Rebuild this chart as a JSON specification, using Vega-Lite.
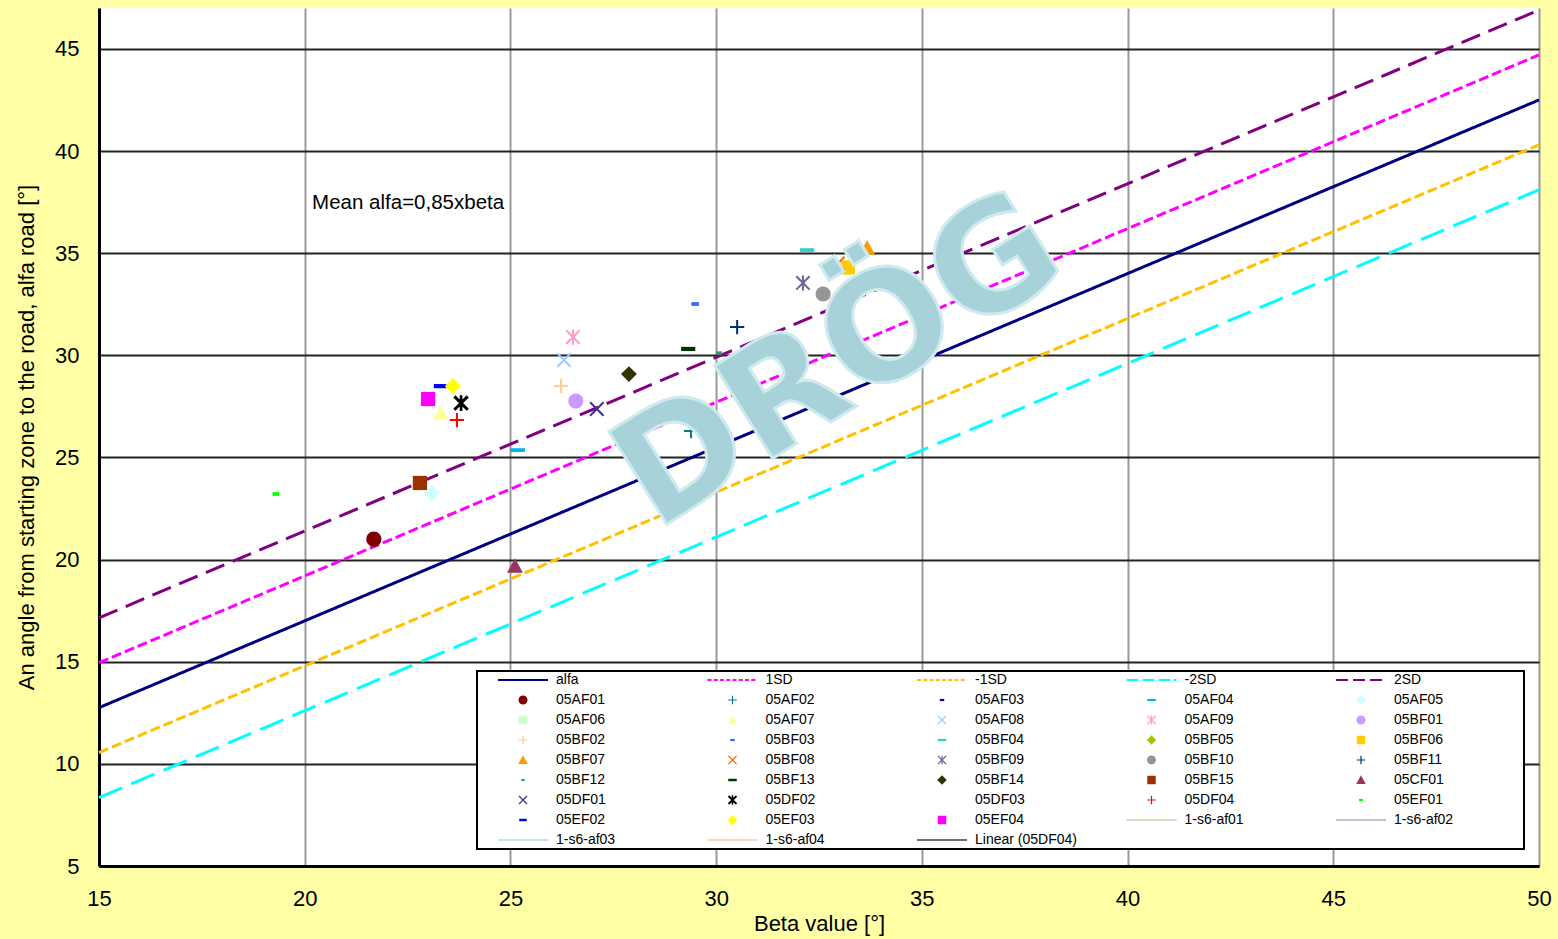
{
"$schema": "https://vega.github.io/schema/vega-lite/v6.json",
"width": 1440, "height": 858,
"autosize": "none",
"padding": {"left": 99, "top": 8, "right": 19, "bottom": 73},
"background": "#FFFFA6",
"config": {"view": {"fill": "#ffffff", "stroke": null}, "legend": {"strokeWidth": 2}},
"datasets": {
"lines": [
{"line": "alfa", "beta": 15, "alfa": 12.75}, {"line": "alfa", "beta": 50, "alfa": 42.5},
{"line": "1SD", "beta": 15, "alfa": 14.95}, {"line": "1SD", "beta": 50, "alfa": 44.7},
{"line": "-1SD", "beta": 15, "alfa": 10.55}, {"line": "-1SD", "beta": 50, "alfa": 40.3},
{"line": "2SD", "beta": 15, "alfa": 17.15}, {"line": "2SD", "beta": 50, "alfa": 46.9},
{"line": "-2SD", "beta": 15, "alfa": 8.35}, {"line": "-2SD", "beta": 50, "alfa": 38.1}
],
"points": [
{"series": "05AF01", "beta": 21.68, "alfa": 21.0},
{"series": "05AF02", "beta": 29.39, "alfa": 26.29},
{"series": "05AF03", "beta": 23.29, "alfa": 28.49},
{"series": "05AF04", "beta": 25.18, "alfa": 25.36},
{"series": "05AF05", "beta": 23.09, "alfa": 23.26},
{"series": "05AF07", "beta": 23.31, "alfa": 27.17},
{"series": "05AF08", "beta": 26.30, "alfa": 29.77},
{"series": "05AF09", "beta": 26.52, "alfa": 30.89},
{"series": "05BF01", "beta": 26.59, "alfa": 27.76},
{"series": "05BF02", "beta": 26.23, "alfa": 28.50},
{"series": "05BF03", "beta": 29.49, "alfa": 32.51},
{"series": "05BF04", "beta": 32.21, "alfa": 35.15},
{"series": "05BF06", "beta": 33.2, "alfa": 34.3},
{"series": "05BF07", "beta": 33.67, "alfa": 35.25},
{"series": "05BF08", "beta": 32.96, "alfa": 34.5},
{"series": "05BF09", "beta": 32.11, "alfa": 33.54},
{"series": "05BF10", "beta": 32.6, "alfa": 33.0},
{"series": "05BF11", "beta": 30.51, "alfa": 31.38},
{"series": "05BF12", "beta": 30.07, "alfa": 30.11},
{"series": "05BF13", "beta": 29.32, "alfa": 30.31},
{"series": "05BF14", "beta": 27.88, "alfa": 29.08},
{"series": "05BF15", "beta": 22.8, "alfa": 23.75},
{"series": "05CF01", "beta": 25.11, "alfa": 19.68},
{"series": "05DF01", "beta": 27.10, "alfa": 27.37},
{"series": "05DF02", "beta": 23.8, "alfa": 27.66},
{"series": "05DF04", "beta": 23.7, "alfa": 26.83},
{"series": "05EF01", "beta": 19.3, "alfa": 23.21},
{"series": "05EF02", "beta": 23.29, "alfa": 28.49},
{"series": "05EF03", "beta": 23.6, "alfa": 28.49},
{"series": "05EF04", "beta": 23.0, "alfa": 27.86}
],
"notes": [{"label": "Mean alfa=0,85xbeta", "beta": 20.18, "alfa": 37.45}],
"stamp": [{"label": "DRÖG", "beta": 33.0, "alfa": 29.6}]
},
"encoding": {
"x": {"field": "beta", "type": "quantitative", "scale": {"domain": [15, 50], "nice": false, "zero": false},
 "axis": {"title": "Beta value [°]", "values": [15, 20, 25, 30, 35, 40, 45, 50], "grid": true, "gridColor": "#999999", "gridWidth": 2, "domainColor": "#000000", "domainWidth": 3, "ticks": false, "labelPadding": 22, "labelFont": "Liberation Sans", "labelFontSize": 22, "labelColor": "#000000", "labelFlush": false, "titleFont": "Liberation Sans", "titleFontSize": 22, "titleFontWeight": "normal", "titleColor": "#000000", "titlePadding": 4}},
"y": {"field": "alfa", "type": "quantitative", "scale": {"domain": [5, 47], "nice": false, "zero": false},
 "axis": {"title": "An angle from starting zone to the road, alfa road [°]", "values": [5, 10, 15, 20, 25, 30, 35, 40, 45], "grid": true, "gridColor": "#222222", "gridWidth": 2, "domainColor": "#000000", "domainWidth": 3, "ticks": false, "labelPadding": 20, "labelFont": "Liberation Sans", "labelFontSize": 22, "labelColor": "#000000", "labelFlush": false, "titleFont": "Liberation Sans", "titleFontSize": 22, "titleFontWeight": "normal", "titleColor": "#000000", "titlePadding": 16}}
},
"layer": [
{"data": {"name": "lines"}, "mark": {"type": "line", "strokeWidth": 3},
 "encoding": {
  "stroke": {"field": "line", "type": "nominal", "scale": {"domain": ["alfa", "1SD", "-1SD", "2SD", "-2SD"], "range": ["#000080", "#FF00FF", "#FFC000", "#800080", "#00FFFF"]}, "legend": null},
  "strokeDash": {"field": "line", "type": "nominal", "scale": {"domain": ["alfa", "1SD", "-1SD", "2SD", "-2SD"], "range": [[1, 0], [10, 4], [10, 4], [20, 9], [25, 10]]}, "legend": null}
 }},
{"data": {"name": "points"}, "mark": {"type": "point", "filled": true, "opacity": 1, "size": 280, "strokeWidth": 0},
 "encoding": {
  "color": {"field": "series", "type": "nominal",
   "scale": {"domain": ["alfa","1SD","-1SD","-2SD","2SD","05AF01","05AF02","05AF03","05AF04","05AF05","05AF06","05AF07","05AF08","05AF09","05BF01","05BF02","05BF03","05BF04","05BF05","05BF06","05BF07","05BF08","05BF09","05BF10","05BF11","05BF12","05BF13","05BF14","05BF15","05CF01","05DF01","05DF02","05DF03","05DF04","05EF01","05EF02","05EF03","05EF04","1-s6-af01","1-s6-af02","1-s6-af03","1-s6-af04","Linear (05DF04)"],
    "range": ["#000080","#FF00FF","#FFC000","#00FFFF","#800080","#800000","#008080","#0000CC","#00B0F0","#CCFFFF","#CCFFCC","#FFFF99","#99CCFF","#FF99CC","#CC99FF","#FFCC99","#3366FF","#33CCCC","#99CC00","#FFCC00","#FF9900","#FF6600","#666699","#969696","#003366","#339966","#003300","#333300","#993300","#993366","#333399","#000000","#000000","#FF0000","#00FF00","#0000FF","#FFFF00","#FF00FF","#C4D3A8","#B3A8CC","#B8D4E0","#F8CBAD","#404040"]},
   "legend": {"orient": "none", "legendX": 378, "legendY": 663, "direction": "horizontal", "columns": 5, "symbolLimit": 0, "gridAlign": "all", "columnPadding": 4.5, "rowPadding": 6, "padding": 2, "symbolSize": 100, "symbolOffset": 37, "symbolStrokeWidth": 0, "symbolOpacity": 1, "labelFont": "Liberation Sans", "labelFontSize": 14, "labelColor": "#000000", "labelOffset": 26, "labelLimit": 300, "strokeColor": "#000000", "fillColor": "#ffffff", "title": null}},
  "shape": {"field": "series", "type": "nominal",
   "scale": {"domain": ["alfa","1SD","-1SD","-2SD","2SD","05AF01","05AF02","05AF03","05AF04","05AF05","05AF06","05AF07","05AF08","05AF09","05BF01","05BF02","05BF03","05BF04","05BF05","05BF06","05BF07","05BF08","05BF09","05BF10","05BF11","05BF12","05BF13","05BF14","05BF15","05CF01","05DF01","05DF02","05DF03","05DF04","05EF01","05EF02","05EF03","05EF04","1-s6-af01","1-s6-af02","1-s6-af03","1-s6-af04","Linear (05DF04)"],
    "range": [
"M-8.6,-1M32.2,1M-5,-0.2H5V0.2H-5Z",
"M-8.6,-1M32.2,1M-5,-0.2H-4.2V0.2H-5ZM-3.75,-0.2H-2.95V0.2H-3.75ZM-2.5,-0.2H-1.7V0.2H-2.5ZM-1.25,-0.2H-0.45V0.2H-1.25ZM0,-0.2H0.8V0.2H0ZM1.25,-0.2H2.05V0.2H1.25ZM2.5,-0.2H3.3V0.2H2.5ZM3.75,-0.2H4.55V0.2H3.75Z",
"M-8.6,-1M32.2,1M-5,-0.2H-4.2V0.2H-5ZM-3.75,-0.2H-2.95V0.2H-3.75ZM-2.5,-0.2H-1.7V0.2H-2.5ZM-1.25,-0.2H-0.45V0.2H-1.25ZM0,-0.2H0.8V0.2H0ZM1.25,-0.2H2.05V0.2H1.25ZM2.5,-0.2H3.3V0.2H2.5ZM3.75,-0.2H4.55V0.2H3.75Z",
"M-8.6,-1M32.2,1M-5,-0.2H-2.6V0.2H-5ZM-1.8,-0.2H0.6V0.2H-1.8ZM1.4,-0.2H3.8V0.2H1.4ZM4.4,-0.2H5V0.2H4.4Z",
"M-8.6,-1M32.2,1M-5,-0.2H-2.6V0.2H-5ZM-1.6,-0.2H0.8V0.2H-1.6ZM1.8,-0.2H4.2V0.2H1.8Z",
"M-8.6,-1M32.2,1M-0.9,0A0.9,0.9,0,1,0,0.9,0A0.9,0.9,0,1,0,-0.9,0Z",
"M-8.6,-1M32.2,1M-0.85,-0.12H0.85V0.12H-0.85ZM-0.12,-0.85H0.12V0.85H-0.12Z",
"M-8.6,-1M32.2,1M-0.45,-0.22H0.45V0.22H-0.45Z",
"M-8.6,-1M32.2,1M-0.85,-0.22H0.85V0.22H-0.85Z",
"M-8.6,-1M32.2,1M0,-0.95L0.95,0L0,0.95L-0.95,0Z",
"M-8.6,-1M32.2,1M-0.85,-0.85H0.85V0.85H-0.85Z",
"M-8.6,-1M32.2,1M0,-0.95L0.95,0.8H-0.95Z",
"M-8.6,-1M32.2,1M-0.715,-0.885L0.885,0.715L0.715,0.885L-0.885,-0.715ZM0.885,-0.715L-0.715,0.885L-0.885,0.715L0.715,-0.885Z",
"M-8.6,-1M32.2,1M-0.715,-0.885L0.885,0.715L0.715,0.885L-0.885,-0.715ZM0.885,-0.715L-0.715,0.885L-0.885,0.715L0.715,-0.885ZM-0.12,-0.9H0.12V0.9H-0.12Z",
"M-8.6,-1M32.2,1M-0.9,0A0.9,0.9,0,1,0,0.9,0A0.9,0.9,0,1,0,-0.9,0Z",
"M-8.6,-1M32.2,1M-0.85,-0.12H0.85V0.12H-0.85ZM-0.12,-0.85H0.12V0.85H-0.12Z",
"M-8.6,-1M32.2,1M-0.45,-0.22H0.45V0.22H-0.45Z",
"M-8.6,-1M32.2,1M-0.85,-0.22H0.85V0.22H-0.85Z",
"M-8.6,-1M32.2,1M0,-0.95L0.95,0L0,0.95L-0.95,0Z",
"M-8.6,-1M32.2,1M-0.85,-0.85H0.85V0.85H-0.85Z",
"M-8.6,-1M32.2,1M0,-0.95L0.95,0.8H-0.95Z",
"M-8.6,-1M32.2,1M-0.715,-0.885L0.885,0.715L0.715,0.885L-0.885,-0.715ZM0.885,-0.715L-0.715,0.885L-0.885,0.715L0.715,-0.885Z",
"M-8.6,-1M32.2,1M-0.715,-0.885L0.885,0.715L0.715,0.885L-0.885,-0.715ZM0.885,-0.715L-0.715,0.885L-0.885,0.715L0.715,-0.885ZM-0.12,-0.9H0.12V0.9H-0.12Z",
"M-8.6,-1M32.2,1M-0.9,0A0.9,0.9,0,1,0,0.9,0A0.9,0.9,0,1,0,-0.9,0Z",
"M-8.6,-1M32.2,1M-0.85,-0.12H0.85V0.12H-0.85ZM-0.12,-0.85H0.12V0.85H-0.12Z",
"M-8.6,-1M32.2,1M-0.35,-0.2H0.35V0.2H-0.35Z",
"M-8.6,-1M32.2,1M-0.85,-0.25H0.85V0.25H-0.85Z",
"M-8.6,-1M32.2,1M0,-0.95L0.95,0L0,0.95L-0.95,0Z",
"M-8.6,-1M32.2,1M-0.85,-0.85H0.85V0.85H-0.85Z",
"M-8.6,-1M32.2,1M0,-0.95L0.95,0.8H-0.95Z",
"M-8.6,-1M32.2,1M-0.715,-0.885L0.885,0.715L0.715,0.885L-0.885,-0.715ZM0.885,-0.715L-0.715,0.885L-0.885,0.715L0.715,-0.885Z",
"M-8.6,-1M32.2,1M-0.673,-0.927L0.927,0.673L0.673,0.927L-0.927,-0.673ZM0.927,-0.673L-0.673,0.927L-0.927,0.673L0.673,-0.927ZM-0.16,-0.95H0.16V0.95H-0.16Z",
"M-8.6,-1M32.2,1",
"M-8.6,-1M32.2,1M-0.85,-0.12H0.85V0.12H-0.85ZM-0.12,-0.85H0.12V0.85H-0.12Z",
"M-8.6,-1M32.2,1M-0.4,-0.22H0.4V0.22H-0.4Z",
"M-8.6,-1M32.2,1M-0.75,-0.25H0.75V0.25H-0.75Z",
"M-8.6,-1M32.2,1M0,-0.95L0.95,0L0,0.95L-0.95,0Z",
"M-8.6,-1M32.2,1M-0.85,-0.85H0.85V0.85H-0.85Z",
"M-8.6,-1M32.2,1M-5,-0.15H5V0.15H-5Z",
"M-8.6,-1M32.2,1M-5,-0.15H5V0.15H-5Z",
"M-8.6,-1M32.2,1M-5,-0.15H5V0.15H-5Z",
"M-8.6,-1M32.2,1M-5,-0.15H5V0.15H-5Z",
"M-8.6,-1M32.2,1M-5,-0.15H5V0.15H-5Z"
]},
   "legend": {"orient": "none", "legendX": 378, "legendY": 663, "direction": "horizontal", "columns": 5, "symbolLimit": 0, "gridAlign": "all", "columnPadding": 4.5, "rowPadding": 6, "padding": 2, "symbolSize": 100, "symbolOffset": 37, "symbolStrokeWidth": 0, "symbolOpacity": 1, "labelFont": "Liberation Sans", "labelFontSize": 14, "labelColor": "#000000", "labelOffset": 26, "labelLimit": 300, "strokeColor": "#000000", "fillColor": "#ffffff", "title": null}}
 }},
{"data": {"name": "notes"}, "mark": {"type": "text", "align": "left", "baseline": "middle", "font": "Liberation Sans", "fontSize": 20.5, "fill": "#000000"},
 "encoding": {"text": {"field": "label", "type": "nominal"}}},
{"data": {"name": "stamp"}, "mark": {"type": "text", "align": "center", "baseline": "middle", "angle": -32, "font": "DejaVu Sans", "fontWeight": "bold", "fontSize": 150, "fill": "#a8d2da", "stroke": "#cfeaee", "strokeWidth": 3},
 "encoding": {"text": {"field": "label", "type": "nominal"}}}
]
}
